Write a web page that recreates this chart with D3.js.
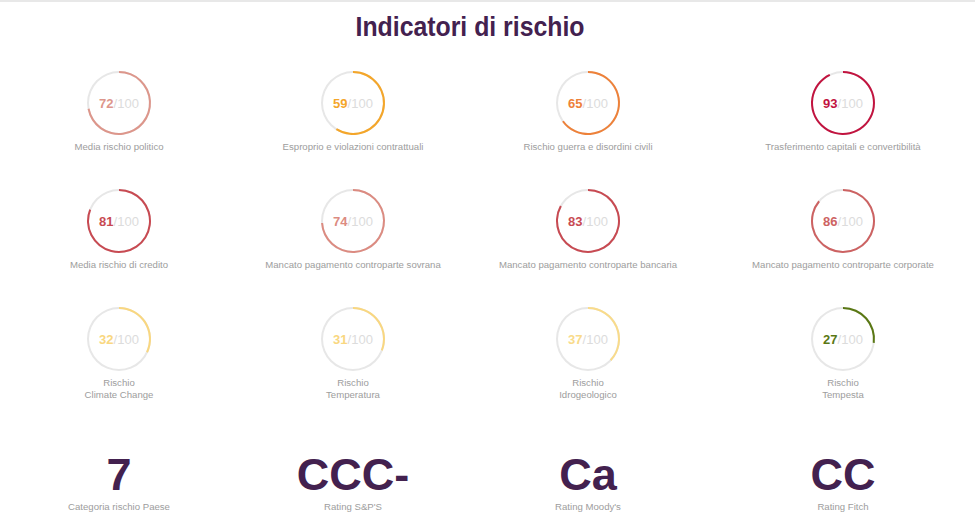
<!DOCTYPE html>
<html>
<head>
<meta charset="utf-8">
<script src="https://cdn.jsdelivr.net/npm/d3@7"></script>
<style>
  html, body { margin: 0; padding: 0; background: #fff; }
  svg { display: block; font-family: "Liberation Sans", Arial, sans-serif; }
</style>
</head>
<body>
<div id="chart"></div>
<script>
// Dati degli indicatori (righe da 4)
const labels = [
  ["Media rischio politico"], ["Esproprio e violazioni contrattuali"], ["Rischio guerra e disordini civili"], ["Trasferimento capitali e convertibilità"],
  ["Media rischio di credito"], ["Mancato pagamento controparte sovrana"], ["Mancato pagamento controparte bancaria"], ["Mancato pagamento controparte corporate"],
  ["Rischio", "Climate Change"], ["Rischio", "Temperatura"], ["Rischio", "Idrogeologico"], ["Rischio", "Tempesta"]
];
const values = [72, 59, 65, 93, 81, 74, 83, 86, 32, 31, 37, 27];
const colors = [
  "#dd968b", "#f4a62a", "#ee8139", "#c2133f",
  "#c84a52", "#dc8b81", "#c84a52", "#cd6262",
  "#f9d780", "#f9d780", "#f9db8a", "#5a7814"
];
const maxValue = 100;

// Rating in fondo
const ratingValues = ["7", "CCC-", "Ca", "CC"];
const ratingLabels = ["Categoria rischio Paese", "Rating S&P'S", "Rating Moody's", "Rating Fitch"];

// Layout
const width = 975;
const height = 516;
const colX = [119, 353, 588, 843];
const rowY = [103, 221, 339];
const radius = 31;
const stroke = 2;

const svg = d3.select("#chart")
  .append("svg")
  .attr("width", width)
  .attr("height", height);

svg.append("rect").attr("width", width).attr("height", height).attr("fill", "white");

// linea grigia in alto
svg.append("line")
  .attr("x1", 0).attr("x2", width)
  .attr("y1", 1).attr("y2", 1)
  .attr("stroke", "#e8e8e8").attr("stroke-width", 2);

// Titolo
svg.append("text")
  .attr("x", 470)
  .attr("y", 36)
  .attr("text-anchor", "middle")
  .attr("fill", "#43214f")
  .attr("font-weight", "bold")
  .attr("font-size", 27)
  .attr("textLength", 229)
  .attr("lengthAdjust", "spacingAndGlyphs")
  .text("Indicatori di rischio");

const angle = d3.scaleLinear().domain([0, maxValue]).range([0, 2 * Math.PI]);
const arc = d3.arc()
  .innerRadius(radius - stroke / 2)
  .outerRadius(radius + stroke / 2)
  .startAngle(0);

const cells = svg.selectAll("g.cell")
  .data(values.map((v, i) => ({ value: v, label: labels[i], color: colors[i], i })))
  .enter()
  .append("g")
  .attr("class", "cell")
  .attr("transform", d => `translate(${colX[d.i % 4]},${rowY[Math.floor(d.i / 4)]})`);

// traccia grigia
cells.append("path")
  .attr("d", arc.endAngle(angle(maxValue)))
  .attr("fill", "#e7e7e7");

// arco valore
cells.append("path")
  .attr("d", d => arc.endAngle(angle(d.value))())
  .attr("fill", d => d.color);

// valore / 100
const valText = cells.append("text")
  .attr("text-anchor", "middle")
  .attr("y", 5)
  .attr("font-size", 13);
valText.append("tspan")
  .attr("font-weight", "bold")
  .attr("fill", d => d.color)
  .text(d => d.value);
valText.append("tspan")
  .attr("fill", "#dcdcdc")
  .text("/" + maxValue);

// etichette
cells.each(function (d) {
  const g = d3.select(this);
  const base = d.label.length > 1 ? 47 : 46.5;
  d.label.forEach((line, k) => {
    g.append("text")
      .attr("text-anchor", "middle")
      .attr("y", base + k * 12)
      .attr("font-size", 9.6)
      .attr("fill", "#9d9d9d")
      .text(line);
  });
});

// Rating
const ratings = svg.selectAll("g.rating")
  .data(ratingValues)
  .enter()
  .append("g")
  .attr("class", "rating")
  .attr("transform", (d, i) => `translate(${colX[i]},0)`);

ratings.append("text")
  .attr("text-anchor", "middle")
  .attr("y", 490)
  .attr("font-size", 45)
  .attr("font-weight", "bold")
  .attr("fill", "#43214f")
  .text(d => d);

ratings.append("text")
  .attr("text-anchor", "middle")
  .attr("y", 510)
  .attr("font-size", 9.6)
  .attr("fill", "#9d9d9d")
  .text((d, i) => ratingLabels[i]);
</script>
</body>
</html>
